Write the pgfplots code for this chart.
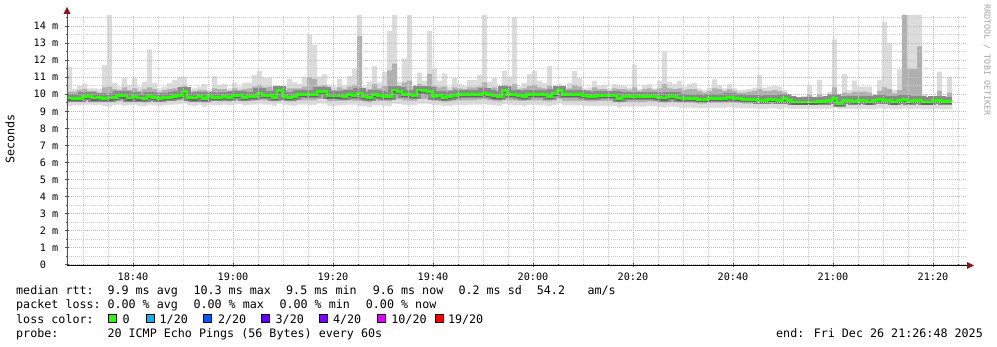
\documentclass[border=0pt]{standalone}
\usepackage{fontspec}
\setmainfont{DejaVu Sans Mono}
\setmonofont{DejaVu Sans Mono}
\usepackage{pgfplots}
\pgfplotsset{compat=1.18}
\usepackage{pgfplotstable}
\definecolor{smokeL}{HTML}{DCDCDC}
\definecolor{smokeM}{HTML}{B0B0B0}
\definecolor{rim}{HTML}{8A8A8A}
\definecolor{medc}{HTML}{26FF00}
\definecolor{mgrid}{HTML}{E8A6A6}
\definecolor{ngrid}{HTML}{CCCCCC}
\definecolor{axc}{HTML}{505050}
\definecolor{arr}{HTML}{8C1414}
\definecolor{lA}{HTML}{00B8FF}
\definecolor{lB}{HTML}{0059FF}
\definecolor{lC}{HTML}{5E00FF}
\definecolor{lD}{HTML}{7E00FF}
\definecolor{lE}{HTML}{DD00FF}
\definecolor{lF}{HTML}{FF0000}
\pgfplotstableread{
t lo p1 med p9 hi
0 9.30 9.55 9.78 10.15 11.62
1 9.35 9.55 9.74 10.15 10.31
2 9.35 9.52 9.74 10.25 10.49
3 9.40 9.60 9.87 10.30 10.61
4 9.40 9.62 9.88 10.20 10.35
5 9.35 9.58 9.78 10.20 10.35
6 9.38 9.60 9.82 10.10 10.31
7 9.30 9.52 9.74 10.40 11.72
8 9.28 9.55 9.78 10.45 14.65
9 9.35 9.58 9.80 10.30 10.65
10 9.40 9.65 9.93 10.25 10.45
11 9.32 9.60 9.90 10.40 10.94
12 9.35 9.55 9.78 10.25 10.55
13 9.40 9.62 9.88 10.35 10.94
14 9.30 9.55 9.78 10.20 10.45
15 9.30 9.50 9.74 10.30 10.74
16 9.38 9.62 9.88 10.40 12.63
17 9.35 9.58 9.83 10.30 10.65
18 9.30 9.52 9.74 10.15 10.35
19 9.35 9.58 9.83 10.25 10.45
20 9.38 9.60 9.83 10.30 10.65
21 9.40 9.62 9.89 10.35 10.84
22 9.42 9.65 9.94 10.40 11.03
23 9.45 9.70 10.17 10.50 11.03
24 9.35 9.60 9.83 10.15 10.25
25 9.30 9.55 9.78 10.20 10.35
26 9.38 9.62 9.89 10.25 10.45
27 9.28 9.50 9.74 10.25 10.60
28 9.38 9.62 9.89 10.15 10.25
29 9.35 9.60 9.83 10.35 11.07
30 9.35 9.58 9.83 10.30 10.55
31 9.38 9.62 9.89 10.30 10.60
32 9.35 9.58 9.83 10.20 10.35
33 9.40 9.65 9.94 10.35 10.65
34 9.42 9.65 9.94 10.25 10.45
35 9.35 9.58 9.83 10.30 10.65
36 9.38 9.62 9.89 10.35 10.68
37 9.40 9.62 9.89 10.45 11.13
38 9.45 9.70 10.08 10.55 11.36
39 9.40 9.65 9.94 10.40 10.94
40 9.40 9.65 9.94 10.45 10.98
41 9.32 9.58 9.82 10.25 10.45
42 9.45 9.75 10.23 10.35 10.45
43 9.38 9.62 9.89 10.25 10.45
44 9.35 9.58 9.83 10.35 10.90
45 9.32 9.58 9.85 10.35 10.70
46 9.40 9.65 9.98 10.35 10.60
47 9.40 9.65 9.98 10.45 11.03
48 9.35 9.65 9.98 11.00 13.47
49 9.38 9.65 9.98 10.90 12.89
50 9.45 9.72 10.17 10.50 11.03
51 9.45 9.72 10.17 10.55 11.17
52 9.30 9.58 9.90 10.30 10.55
53 9.30 9.60 9.90 10.25 10.45
54 9.35 9.62 9.90 10.40 10.90
55 9.35 9.62 9.89 10.30 10.55
56 9.40 9.65 9.98 10.45 11.07
57 9.38 9.62 9.94 10.55 11.52
58 9.30 9.60 10.08 13.40 14.65
59 9.30 9.58 9.89 10.25 10.45
60 9.25 9.52 9.80 10.30 10.74
61 9.35 9.65 9.98 10.60 11.66
62 9.35 9.62 9.94 10.35 10.70
63 9.32 9.60 9.89 10.50 11.33
64 9.30 9.58 9.85 11.40 13.71
65 9.45 9.75 10.25 11.80 14.65
66 9.42 9.70 10.17 10.45 10.74
67 9.38 9.65 9.98 10.70 12.10
68 9.35 9.62 9.98 10.80 14.65
69 9.35 9.62 9.94 10.25 10.45
70 9.45 9.75 10.25 10.60 11.27
71 9.45 9.72 10.22 10.50 10.80
72 9.42 9.70 10.17 11.20 13.71
73 9.35 9.60 9.89 10.50 11.52
74 9.38 9.65 9.94 10.40 10.80
75 9.30 9.55 9.83 10.45 11.23
76 9.32 9.58 9.89 10.25 10.45
77 9.35 9.62 9.94 10.40 10.94
78 9.38 9.65 9.98 10.35 10.60
79 9.35 9.65 9.98 10.30 10.49
80 9.38 9.65 9.98 10.40 10.84
81 9.40 9.65 9.98 10.40 10.84
82 9.40 9.68 9.98 10.45 11.13
83 9.42 9.70 10.08 10.70 14.65
84 9.38 9.65 9.98 10.35 10.74
85 9.35 9.62 9.90 10.40 10.94
86 9.30 9.58 9.85 10.20 10.35
87 9.42 9.72 10.22 10.55 11.36
88 9.38 9.65 9.98 10.45 11.03
89 9.35 9.65 9.98 10.60 14.52
90 9.35 9.62 9.94 10.30 10.45
91 9.32 9.60 9.89 10.35 10.65
92 9.38 9.65 9.98 10.50 11.20
93 9.38 9.65 9.98 10.55 11.36
94 9.35 9.65 9.98 10.40 10.80
95 9.35 9.62 9.98 10.35 10.65
96 9.30 9.58 9.89 10.50 11.66
97 9.38 9.65 10.06 10.30 10.35
98 9.45 9.72 10.22 10.45 10.60
99 9.35 9.62 9.98 10.25 10.35
100 9.35 9.62 9.98 10.35 10.68
101 9.35 9.62 9.98 10.55 11.36
102 9.35 9.62 9.98 10.45 10.94
103 9.32 9.60 9.94 10.25 10.35
104 9.30 9.58 9.89 10.25 10.41
105 9.30 9.58 9.89 10.40 10.80
106 9.32 9.60 9.94 10.30 10.49
107 9.32 9.60 9.94 10.30 10.55
108 9.32 9.60 9.94 10.20 10.35
109 9.30 9.58 9.94 10.35 10.60
110 9.22 9.50 9.77 10.30 10.55
111 9.28 9.55 9.89 10.30 10.49
112 9.28 9.55 9.89 10.25 10.39
113 9.28 9.55 9.89 10.40 11.72
114 9.28 9.55 9.89 10.20 10.31
115 9.28 9.55 9.89 10.30 10.55
116 9.30 9.58 9.89 10.35 10.60
117 9.30 9.58 9.89 10.25 10.35
118 9.25 9.52 9.83 10.35 10.80
119 9.22 9.50 9.78 10.60 12.50
120 9.28 9.55 9.89 10.35 10.74
121 9.28 9.55 9.89 10.30 10.60
122 9.22 9.50 9.78 10.35 10.80
123 9.20 9.48 9.74 10.25 10.45
124 9.22 9.48 9.74 10.30 10.60
125 9.20 9.48 9.74 10.30 10.65
126 9.18 9.45 9.69 10.20 10.35
127 9.18 9.45 9.69 10.10 10.25
128 9.20 9.48 9.74 10.20 10.39
129 9.22 9.48 9.74 10.35 10.88
130 9.20 9.48 9.74 10.30 10.55
131 9.20 9.48 9.74 10.20 10.35
132 9.25 9.52 9.82 10.30 10.60
133 9.20 9.48 9.74 10.20 10.35
134 9.20 9.48 9.74 10.10 10.25
135 9.18 9.45 9.70 10.10 10.25
136 9.18 9.45 9.70 10.15 10.31
137 9.18 9.45 9.70 10.20 10.39
138 9.15 9.42 9.65 10.30 11.13
139 9.15 9.42 9.65 10.20 10.39
140 9.18 9.45 9.70 10.20 10.45
141 9.18 9.45 9.70 10.25 10.49
142 9.15 9.42 9.64 10.20 10.45
143 9.20 9.48 9.74 10.10 10.25
144 9.15 9.40 9.65 9.90 9.98
145 9.15 9.38 9.55 9.80 9.90
146 9.15 9.38 9.55 9.75 9.82
147 9.15 9.38 9.55 9.80 9.90
148 9.15 9.38 9.55 9.95 10.55
149 9.15 9.38 9.55 9.78 9.86
150 9.15 9.40 9.59 10.00 10.84
151 9.15 9.40 9.59 9.82 9.90
152 9.15 9.42 9.64 9.95 10.15
153 9.20 9.45 9.74 10.40 13.22
154 9.12 9.32 9.48 9.80 9.90
155 9.15 9.42 9.64 10.10 11.20
156 9.15 9.42 9.64 10.05 10.25
157 9.15 9.40 9.59 10.15 10.80
158 9.15 9.42 9.64 10.15 10.45
159 9.15 9.42 9.64 10.15 10.45
160 9.12 9.38 9.55 10.10 10.45
161 9.15 9.42 9.64 9.88 9.96
162 9.18 9.45 9.70 10.20 10.84
163 9.15 9.42 9.64 10.40 14.22
164 9.15 9.42 9.64 10.30 12.98
165 9.12 9.38 9.55 10.05 10.25
166 9.15 9.42 9.64 10.25 11.46
167 9.18 9.45 9.70 14.65 14.65
168 9.12 9.40 9.59 11.50 14.65
169 9.15 9.42 9.64 11.50 14.65
170 9.15 9.42 9.64 12.80 14.65
171 9.12 9.38 9.55 9.85 9.96
172 9.12 9.38 9.55 9.75 9.82
173 9.15 9.42 9.64 9.85 9.90
174 9.15 9.42 9.64 10.20 11.33
175 9.12 9.40 9.59 9.75 9.82
176 9.12 9.40 9.59 10.10 11.03
177 9.12 9.40 9.59 10.10 11.03
}\smoke
\begin{document}
\begin{tikzpicture}[x=1pt,y=1pt]
\path (0,0) rectangle (997,347);
\begin{axis}[
  at={(67pt,82pt)}, anchor=south west,
  scale only axis, width=900pt, height=250pt,
  xmin=0, xmax=180, ymin=0, ymax=14.645,
  axis on top,
  axis line style={draw=none},
  xtick={13.2,33.2,53.2,73.2,93.2,113.2,133.2,153.2,173.2},
  xticklabels={18:40,19:00,19:20,19:40,20:00,20:20,20:40,21:00,21:20},
  minor xtick={3.2,8.2,18.2,23.2,28.2,38.2,43.2,48.2,58.2,63.2,68.2,78.2,83.2,88.2,98.2,103.2,108.2,118.2,123.2,128.2,138.2,143.2,148.2,158.2,163.2,168.2,178.2},
  ytick={0,1,2,3,4,5,6,7,8,9,10,11,12,13,14},
  yticklabels={{0\phantom{\ m}},1 m,2 m,3 m,4 m,5 m,6 m,7 m,8 m,9 m,10 m,11 m,12 m,13 m,14 m},
  minor ytick={0.5,1.5,2.5,3.5,4.5,5.5,6.5,7.5,8.5,9.5,10.5,11.5,12.5,13.5,14.5},
  grid=both,
  major grid style={mgrid, line width=1pt, dash pattern=on 1pt off 1pt},
  minor grid style={ngrid, line width=1pt, dash pattern=on 1pt off 1pt},
  xtick pos=bottom, ytick pos=left,
  tick align=center,
  major tick length=4pt, minor tick length=2pt,
  tick style={axc, line width=1pt},
  tick label style={font=\fontsize{10.2}{12}\selectfont},
  yticklabel style={anchor=east, inner sep=0pt, xshift=-6.5pt},
  xticklabel style={anchor=base, inner sep=0pt, yshift=-13.5pt},
]
\addplot[const plot, fill=smokeL, draw=none] table[x=t,y=hi]{\smoke} \closedcycle;
\addplot[const plot, fill=smokeM, draw=none] table[x=t,y=p9]{\smoke} \closedcycle;
\addplot[const plot, fill=smokeL, draw=none] table[x=t,y=p1]{\smoke} \closedcycle;
\addplot[const plot, fill=white, draw=none] table[x=t,y=lo]{\smoke} \closedcycle;
\addplot[const plot, draw=rim, line width=8pt, yshift=0.5pt] table[x=t,y=med]{\smoke};
\addplot[const plot, draw=black!60, line width=1.5pt, yshift=-1.8pt] table[x=t,y=med]{\smoke};
\addplot[const plot, draw=medc, line width=2.8pt] table[x=t,y=med]{\smoke};
\end{axis}
% axes with arrows
\draw[axc, line width=1pt] (67,81.5) -- (67,336);
\fill[arr] (63.5,333) -- (70.5,333) -- (67,340) -- cycle;
\draw[black, line width=1pt] (66.5,81.5) -- (968,81.5);
\fill[arr] (967,78) -- (967,85) -- (974,81.5) -- cycle;
% labels
\node[rotate=90, font=\fontsize{11.7}{13}\selectfont] at (10,208) {Seconds};
\node[rotate=-90, text=black!35, font=\fontsize{8.4}{9}\selectfont] at (987,287) {RRDTOOL / TOBI OETIKER};
\begin{scope}[every node/.style={anchor=base west, inner sep=0pt, font=\fontsize{11.7}{13}\selectfont}]
\node at (16,52) {median rtt:};
\node at (107.3,52) {9.9 ms avg};
\node at (193.3,52) {10.3 ms max};
\node at (286,52) {9.5 ms min};
\node at (372.7,52) {9.6 ms now};
\node at (458.3,52) {0.2 ms sd};
\node at (536.7,52) {54.2};
\node at (587.3,52) {am/s};
\node at (16,38) {packet loss:};
\node at (107.3,38) {0.00 \% avg};
\node at (193.3,38) {0.00 \% max};
\node at (279.3,38) {0.00 \% min};
\node at (365.7,38) {0.00 \% now};
\node at (16,23.7) {loss color:};
\node at (122.3,23.7) {0};
\node at (159.5,23.7) {1/20};
\node at (217.8,23.7) {2/20};
\node at (275.5,23.7) {3/20};
\node at (332.8,23.7) {4/20};
\node at (391.2,23.7) {10/20};
\node at (447.8,23.7) {19/20};
\node at (16,9.7) {probe:};
\node at (107.3,9.7) {20 ICMP Echo Pings (56 Bytes) every 60s};
\node at (776,9.7) {end: Fri Dec 26 21:26:48 2025};
\end{scope}
\begin{scope}[line width=1pt]
\filldraw[fill=medc, draw=black] (108.5,24.5) rectangle (116.5,32.5);
\filldraw[fill=lA, draw=black] (146,24.5) rectangle (154,32.5);
\filldraw[fill=lB, draw=black] (203.3,24.5) rectangle (211.3,32.5);
\filldraw[fill=lC, draw=black] (261.7,24.5) rectangle (269.7,32.5);
\filldraw[fill=lD, draw=black] (319.3,24.5) rectangle (327.3,32.5);
\filldraw[fill=lE, draw=black] (377.3,24.5) rectangle (385.3,32.5);
\filldraw[fill=lF, draw=black] (435,24.5) rectangle (443,32.5);
\end{scope}
\end{tikzpicture}
\end{document}
